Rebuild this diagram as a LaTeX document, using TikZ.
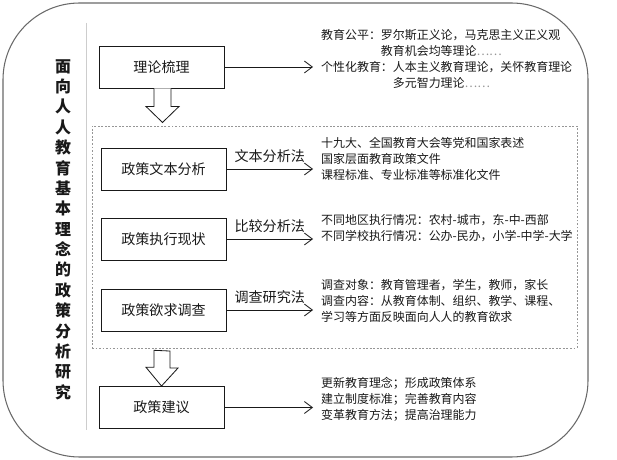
\documentclass[tikz,border=0pt]{standalone}
\usepackage{fontspec}
\setmainfont{Noto Sans CJK SC}
\usetikzlibrary{arrows.meta,positioning,calc}
\definecolor{ink}{RGB}{25,25,25}
\definecolor{frame}{RGB}{105,105,105}
\definecolor{guide}{RGB}{205,205,205}
\definecolor{dots}{RGB}{150,150,150}
\tikzset{
  >={Straight Barb[length=2.4mm,width=3.6mm]},
  stage/.style={draw=ink,line width=0.8pt,minimum width=3.75cm,minimum height=1.26cm,
    font=\fontsize{12}{14}\selectfont,text=ink},
  flow/.style={->,line width=0.7pt,draw=ink},
  method/.style={font=\fontsize{12}{14}\selectfont,text=ink,above,yshift=1.5pt},
  notes/.style={anchor=west,align=left,inner xsep=2.4mm,inner ysep=1pt,
    font=\fontsize{10.2}{13.6}\selectfont,text=ink},
  hollow/.style={draw=ink,line width=0.7pt,fill=white,line join=miter},
  methodbox/.style={draw=dots,dash pattern=on 1.6pt off 1.4pt,line width=0.5pt,
    minimum width=14.55cm,minimum height=6.66cm},
}

\begin{document}
\begin{tikzpicture}[x=0.03cm,y=-0.03cm]
  \useasboundingbox (0,0) rectangle (617,460);
  % outer frame and guide line
  \draw[frame,line width=0.9pt,rounded corners=2.3cm] (3,3) rectangle (588,457);
  \draw[guide,line width=0.5pt] (86,23) -- (86,430);
  \node[font=\bfseries\fontsize{13.6}{17.4}\selectfont,align=center,text=ink] (topic) at (63,229.5)
    {面\\向\\人\\人\\教\\育\\基\\本\\理\\念\\的\\政\\策\\分\\析\\研\\究};

  % stages
  \node[stage] (theory) at (161.5,67) {理论梳理};
  \node[methodbox] (methods) at (334.5,237) {};
  \node[stage] (texts) at (163.5,169) {政策文本分析};
  \node[stage] (status) at (163.5,239) {政策执行现状};
  \node[stage] (demand) at (163.5,310) {政策欲求调查};
  \node[stage] (advice) at (161.5,407.5) {政策建议};

  % notes
  \node[notes] (theorynote) at (313,59) {教育公平：罗尔斯正义论，马克思主义正义观\\
    \hspace*{5em}教育机会均等理论{\color{dots}……}\\
    个性化教育：人本主义教育理论，关怀教育理论\\
    \hspace*{6em}多元智力理论{\color{dots}……}};
  \node[notes] (textsnote) at (313,158.5) {十九大、全国教育大会等党和国家表述\\
    国家层面教育政策文件\\
    课程标准、专业标准等标准化文件};
  \node[notes] (statusnote) at (313,228.5) {不同地区执行情况：农村-城市，东-中-西部\\
    不同学校执行情况：公办-民办，小学-中学-大学};
  \node[notes] (demandnote) at (313,301) {调查对象：教育管理者，学生，教师，家长\\
    调查内容：从教育体制、组织、教学、课程、\\
    学习等方面反映面向人人的教育欲求};
  \node[notes] (advicenote) at (313,399) {更新教育理念；形成政策体系\\
    建立制度标准；完善教育内容\\
    变革教育方法；提高治理能力};

  % connectors
  \draw[flow] (theory.east) -- (theory.east -| theorynote.west);
  \draw[flow] (texts.east) -- node[method] {文本分析法} (texts.east -| textsnote.west);
  \draw[flow] (status.east) -- node[method] {比较分析法} (status.east -| statusnote.west);
  \draw[flow] (demand.east) -- node[method] {调查研究法} (demand.east -| demandnote.west);
  \draw[flow] (advice.east) -- (advice.east -| advicenote.west);

  % hollow arrows
  \draw[hollow] (theory.south) ++(-7.5,0) -- ++(0,18) -- ++(-8,0) -- ++(16.5,16)
    -- ++(16.5,-16) -- ++(-8,0) -- ++(0,-18);
  \draw[hollow] ($(methods.south -| advice.north)+(-7.5,2)$) -- ++(0,17) -- ++(-8,0)
    -- (advice.north) -- ++(16.5,-18) -- ++(-8,0) -- ++(0,-17) -- cycle;
\end{tikzpicture}
\end{document}
